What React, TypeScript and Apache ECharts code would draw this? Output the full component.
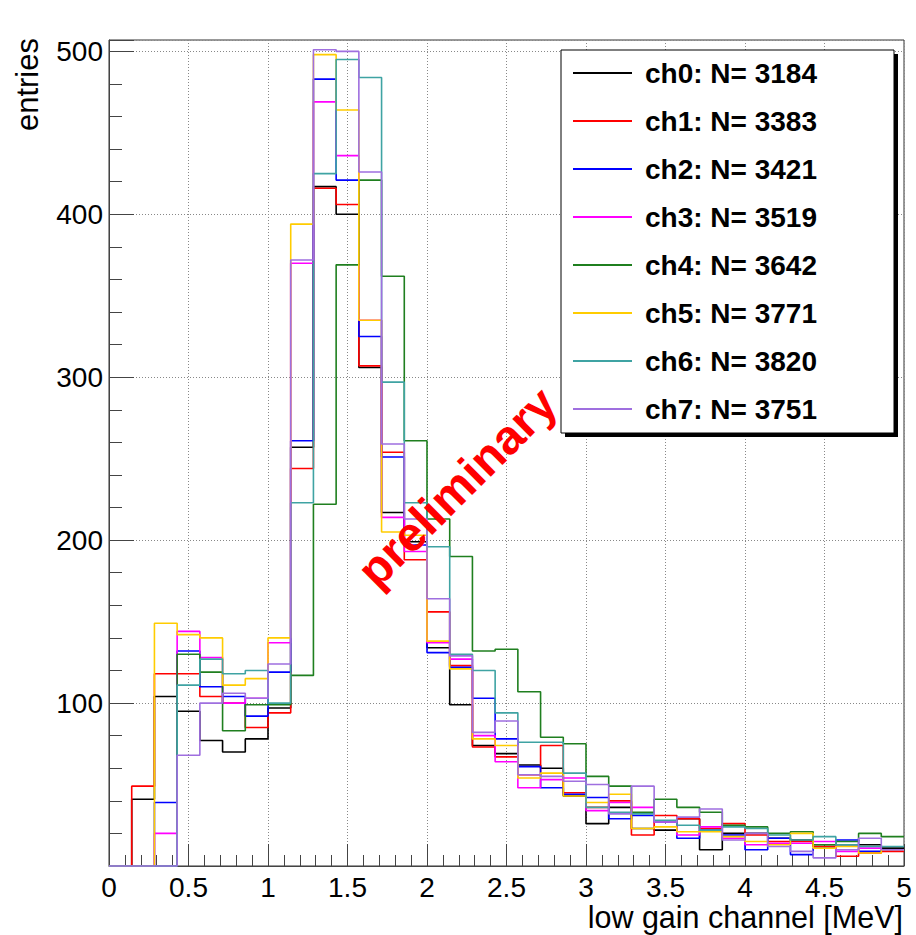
import { useEffect, useRef } from "react";
import * as echarts from "echarts";

// Histogram binning: 35 equal bins between 0 and 5 MeV
const X_MIN = 0;
const X_MAX = 5;
const N_BINS = 35;
const Y_MAX = 507;

const channels = ["ch0", "ch1", "ch2", "ch3", "ch4", "ch5", "ch6", "ch7"];
const entries = [3184, 3383, 3421, 3519, 3642, 3771, 3820, 3751];
const colors = ["#000000", "#ff0000", "#0000ff", "#ff00ff", "#1f7f1f", "#ffcc00", "#3fa3a3", "#9f6fdf"];

// Bin contents per channel (counts per bin, lowest bin first)
const ch0 = [0, 41, 104, 95, 77, 70, 78, 97, 257, 417, 400, 306, 217, 199, 134, 99, 74, 69, 62, 60, 43, 26, 36, 23, 22, 29, 10, 20, 20, 17, 16, 12, 13, 13, 11];
const ch1 = [0, 49, 118, 118, 104, 100, 85, 94, 244, 416, 406, 307, 254, 188, 156, 123, 73, 67, 56, 74, 45, 36, 40, 19, 31, 29, 23, 26, 19, 15, 15, 12, 6, 8, 9];
const ch2 = [0, 0, 39, 132, 110, 104, 92, 119, 261, 483, 421, 325, 251, 197, 131, 122, 103, 78, 61, 48, 44, 42, 29, 31, 27, 17, 22, 19, 10, 17, 7, 11, 16, 9, 10];
const ch3 = [0, 0, 20, 144, 128, 100, 103, 137, 370, 469, 436, 335, 214, 193, 137, 127, 80, 64, 48, 53, 54, 34, 39, 36, 27, 19, 24, 17, 13, 14, 14, 15, 9, 11, 10];
const ch4 = [0, 0, 0, 130, 119, 83, 99, 99, 117, 222, 369, 421, 362, 261, 213, 190, 132, 133, 107, 79, 75, 55, 49, 33, 41, 36, 33, 25, 24, 20, 21, 13, 15, 20, 18];
const ch5 = [0, 0, 149, 142, 140, 111, 115, 140, 394, 498, 464, 335, 205, 203, 138, 121, 78, 74, 54, 57, 43, 39, 44, 23, 24, 21, 21, 18, 15, 13, 20, 11, 12, 8, 10];
const ch6 = [0, 0, 0, 111, 127, 118, 120, 100, 223, 425, 495, 484, 297, 223, 196, 130, 120, 94, 76, 76, 57, 36, 33, 32, 28, 25, 22, 24, 23, 19, 16, 18, 13, 12, 12];
const ch7 = [0, 0, 0, 68, 100, 106, 103, 124, 372, 501, 500, 426, 259, 213, 164, 129, 82, 89, 56, 55, 52, 50, 32, 49, 27, 30, 35, 16, 20, 12, 9, 5, 10, 17, 10];

const counts = [ch0, ch1, ch2, ch3, ch4, ch5, ch6, ch7];

const FONT = "'Liberation Sans', Arial, Helvetica, sans-serif";

// Each bin becomes a point at its lower edge; the final point closes the last bin.
function toSteps(bins: number[]): number[][] {
  const width = (X_MAX - X_MIN) / N_BINS;
  const pts = bins.map((c, i) => [X_MIN + i * width, c]);
  pts.push([X_MAX, bins[bins.length - 1]]);
  return pts;
}

export default function App() {
  const ref = useRef<HTMLDivElement>(null);

  useEffect(() => {
    if (!ref.current) return;
    const chart = echarts.init(ref.current, null, { renderer: "svg" });

    const totals: Record<string, number> = {};
    channels.forEach((c, i) => (totals[c] = entries[i]));

    const gridStyle = { color: "#888", width: 1, type: [1, 2] as number[] };

    chart.setOption({
      animation: false,
      backgroundColor: "#fff",
      grid: {
        left: 109,
        right: 12,
        top: 40,
        bottom: 69,
        show: true,
        borderColor: "#333",
        borderWidth: 1,
        backgroundColor: "transparent",
      },
      xAxis: {
        type: "value",
        min: X_MIN,
        max: X_MAX,
        interval: 0.5,
        axisLine: { lineStyle: { color: "#444", width: 1 } },
        axisTick: { inside: true, length: 22, lineStyle: { color: "#444" } },
        minorTick: { show: true, splitNumber: 5, length: 11, lineStyle: { color: "#444" } },
        splitLine: { show: true, lineStyle: gridStyle },
        axisLabel: { fontSize: 28, fontFamily: FONT, color: "#000", margin: 7 },
      },
      yAxis: {
        type: "value",
        min: 0,
        max: Y_MAX,
        interval: 100,
        axisLine: { show: true, lineStyle: { color: "#444", width: 1 } },
        axisTick: { show: true, inside: true, length: 25, lineStyle: { color: "#444" } },
        minorTick: { show: true, splitNumber: 5, length: 13, lineStyle: { color: "#444" } },
        splitLine: { show: true, lineStyle: gridStyle },
        axisLabel: {
          fontSize: 28,
          fontFamily: FONT,
          color: "#000",
          margin: 6,
          formatter: (v: number) => (v > 0 && v % 100 === 0 ? String(v) : ""),
        },
      },
      legend: {
        orient: "vertical",
        left: 561,
        top: 50,
        padding: [9, 0, 0, 12],
        itemWidth: 59,
        itemHeight: 2,
        itemGap: 20,
        icon: "rect",
        selectedMode: false,
        z: 12,
        data: channels,
        formatter: (name: string) => `${name}: N= ${totals[name]}`,
        textStyle: {
          fontSize: 28,
          fontWeight: "bold",
          fontFamily: FONT,
          color: "#000",
          lineHeight: 28,
          padding: [0, 0, 0, 8],
        },
      },
      graphic: [
        { type: "rect", z: 10, shape: { x: 565, y: 54, width: 333, height: 383 }, style: { fill: "#000" } },
        {
          type: "rect",
          z: 10,
          shape: { x: 561, y: 50, width: 333, height: 383 },
          style: { fill: "#fff", stroke: "#000", lineWidth: 1 },
        },
        {
          type: "text",
          z: 20,
          x: 457,
          y: 487,
          rotation: Math.PI / 4,
          style: {
            text: "preliminary",
            fill: "#ff0000",
            fontSize: 48,
            fontWeight: "bold",
            fontFamily: FONT,
            align: "center",
            verticalAlign: "middle",
          },
        },
        {
          type: "text",
          z: 20,
          x: 903,
          y: 917,
          style: {
            text: "low gain channel [MeV]",
            fill: "#000",
            fontSize: 30.5,
            fontFamily: FONT,
            align: "right",
            verticalAlign: "middle",
          },
        },
        {
          type: "text",
          z: 20,
          x: 27,
          y: 38,
          rotation: Math.PI / 2,
          style: {
            text: "entries",
            fill: "#000",
            fontSize: 31,
            fontFamily: FONT,
            align: "right",
            verticalAlign: "middle",
          },
        },
      ],
      series: channels.map((name, i) => ({
        name,
        type: "line",
        step: "end",
        symbol: "none",
        clip: false,
        color: colors[i],
        lineStyle: { color: colors[i], width: 1.6 },
        itemStyle: { color: colors[i] },
        data: toSteps(counts[i]),
        z: 2,
      })),
    });

    return () => chart.dispose();
  }, []);

  return (
    <div
      ref={ref}
      style={{ position: "absolute", left: 0, top: 0, width: 916, height: 935, background: "#fff" }}
    />
  );
}
